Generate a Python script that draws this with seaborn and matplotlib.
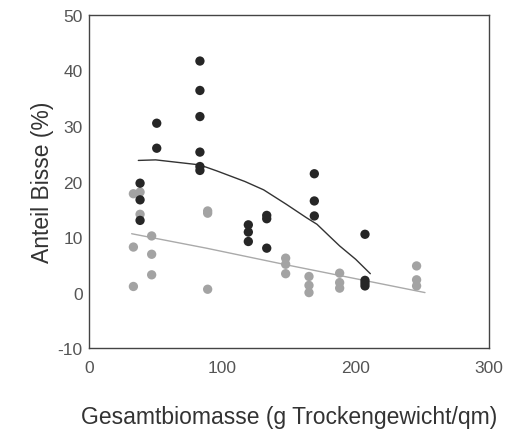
import numpy as np
import pandas as pd
import matplotlib
matplotlib.use("Agg")
import matplotlib.pyplot as plt
import seaborn as sns

# dark series (points)
dark_x = [38.3, 38.3, 38.3, 50.8, 50.8, 83.2, 83.2, 83.2, 83.2, 83.2, 83.2,
          119.5, 119.5, 119.5, 133.3, 133.3, 133.3, 169.0, 169.0, 169.0,
          207.0, 207.0, 207.0, 207.0]
dark_y = [19.7, 16.7, 13.0, 30.5, 26.0, 41.7, 36.4, 31.7, 25.3, 22.7, 22.0,
          12.2, 10.9, 9.2, 13.9, 13.3, 8.0, 21.4, 16.5, 13.8,
          10.5, 2.2, 1.7, 1.2]
# light series (points)
light_x = [33.3, 38.3, 38.3, 33.3, 47.0, 47.0, 47.0, 33.3, 89.0, 89.0, 89.0,
           147.5, 147.5, 147.5, 165.0, 165.0, 165.0, 188.0, 188.0, 188.0,
           245.7, 245.7, 245.7]
light_y = [17.8, 18.1, 14.1, 8.2, 10.2, 6.9, 3.2, 1.1, 14.3, 14.7, 0.6,
           6.2, 5.1, 3.4, 2.9, 1.3, 0.0, 3.5, 1.8, 0.8,
           4.8, 2.3, 1.2]
# fitted curves
dark_fit_x = [37, 50, 83, 96, 117, 131, 148, 163, 171, 181, 188, 200, 211]
dark_fit_y = [23.8, 23.9, 23.0, 21.9, 20.0, 18.5, 15.9, 13.5, 12.3, 10.0, 8.4, 6.0, 3.4]
light_fit_x = [32, 88, 148, 173, 252]
light_fit_y = [10.6, 8.0, 5.0, 3.8, 0.0]

x_ticks = [0, 100, 200, 300]
y_ticks = [-10, 0, 10, 20, 30, 40, 50]

sns.set_style("white")
plt.rcParams['font.family'] = ['Liberation Sans', 'DejaVu Sans']

fig = plt.figure(figsize=(5.10, 4.31), dpi=100)
ax = fig.add_axes([0.1745, 0.190, 0.7843, 0.773])

dark = pd.DataFrame({"x": dark_x, "y": dark_y})
light = pd.DataFrame({"x": light_x, "y": light_y})
dfit = pd.DataFrame({"x": dark_fit_x, "y": dark_fit_y})
lfit = pd.DataFrame({"x": light_fit_x, "y": light_fit_y})

sns.lineplot(data=lfit, x="x", y="y", ax=ax, color="#aaaaaa", lw=1.0, sort=False)
sns.lineplot(data=dfit, x="x", y="y", ax=ax, color="#333333", lw=1.0, sort=False)
sns.scatterplot(data=light, x="x", y="y", ax=ax, color="#a3a3a3", s=45,
                edgecolor="none", zorder=3)
sns.scatterplot(data=dark, x="x", y="y", ax=ax, color="#262626", s=45,
                edgecolor="none", zorder=4)

ax.set_xlim(0, 300)
ax.set_ylim(-10, 50)
ax.set_xticks(x_ticks)
ax.set_yticks(y_ticks)
ax.set_xticklabels([str(t) for t in x_ticks])
ax.set_yticklabels([str(t) for t in y_ticks])
ax.tick_params(axis="both", direction="inout", length=3, width=1.5, color="#333333",
               labelsize=12.5, labelcolor="#555555")
ax.tick_params(axis="x", pad=7)
ax.tick_params(axis="y", pad=3)
for s in ax.spines.values():
    s.set_color("#444444")
    s.set_linewidth(1.0)
    s.set_visible(True)

ax.set_xlabel("Gesamtbiomasse (g Trockengewicht/qm)", fontsize=16.5, color="#333333")
ax.set_ylabel("Anteil Bisse (%)", fontsize=16.5, color="#333333")
ax.xaxis.set_label_coords(0.5, -0.172)
ax.yaxis.set_label_coords(-0.088, 0.5)

fig.savefig("out.png", dpi=100)
